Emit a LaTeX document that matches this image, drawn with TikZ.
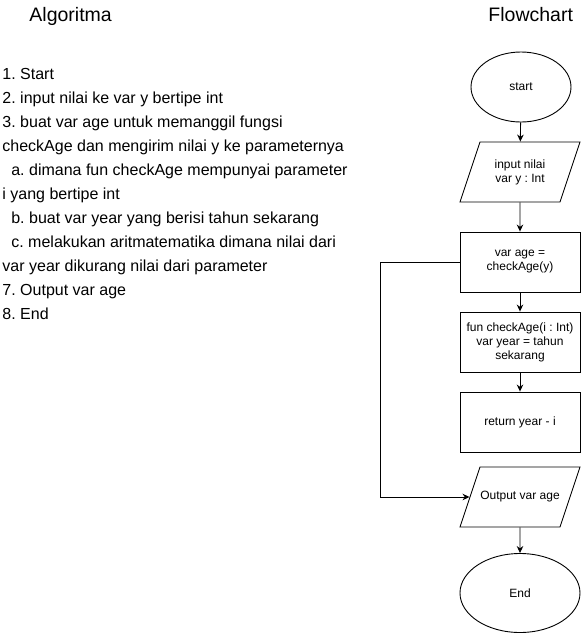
\documentclass[tikz,border=0pt]{standalone}
\usepackage{fontspec}
\setmainfont{Liberation Sans}
\frenchspacing
\usetikzlibrary{shapes,shapes.geometric,arrows.meta}
\newcommand{\iotext}[1]{\parbox[c][60pt][c]{80pt}{\centering #1}}

\begin{document}
\begin{tikzpicture}[x=1pt,y=-1pt,line width=0.9pt,
  ttl/.style={anchor=base west,inner sep=0pt,font=\fontsize{19.5}{23}\selectfont},
  txt/.style={anchor=base west,inner sep=0pt,font=\fontsize{16}{19}\selectfont},
  term/.style={draw,ellipse,inner sep=0pt,align=center,font=\fontsize{12}{14}\selectfont},
  io/.style={draw,trapezium,trapezium left angle=71.57,trapezium right angle=108.43,
    inner sep=0pt,font=\fontsize{12}{14}\selectfont},
  proc/.style={draw,rectangle,minimum width=120pt,minimum height=60pt,inner sep=0pt,
    align=center,font=\fontsize{12}{14}\selectfont},
  arr/.style={-{Stealth[length=7pt,width=6.5pt]}}]
\useasboundingbox (0,0) rectangle (581,633);
% algoritma
\draw(29,21) node[ttl] (algo) {Algoritma};
\draw(2,79) node[txt] (s1) {1. Start};
\draw(2,103) node[txt] (s2) {2. input nilai ke var y bertipe int};
\draw(2,127) node[txt] (s3) {3. buat var age untuk memanggil fungsi};
\draw(2,151) node[txt] (s3b) {checkAge dan mengirim nilai y ke parameternya};
\draw(2,175) node[txt] (sa) {\hspace*{8.9pt}a. dimana fun checkAge mempunyai parameter};
\draw(2,199) node[txt] (sa2) {i yang bertipe int};
\draw(2,223) node[txt] (sb) {\hspace*{8.9pt}b. buat var year yang berisi tahun sekarang};
\draw(2,247) node[txt] (sc) {\hspace*{8.9pt}c. melakukan aritmatematika dimana nilai dari};
\draw(2,271) node[txt] (sc2) {var year dikurang nilai dari parameter};
\draw(2,295) node[txt] (s7) {7. Output var age};
\draw(2,319) node[txt] (s8) {8. End};
% flowchart
\draw(488,21) node[ttl] (flow) {Flowchart};
\draw(521,87) node[term,minimum width=100pt,minimum height=70pt] (start) {start};
\draw(520,172) node[io] (input) {\iotext{input nilai\\var y : Int}};
\draw(520,262) node[proc] (age) {var age =\\checkAge(y)};
\draw(520,342) node[proc] (fun) {fun checkAge(i : Int)\\var year = tahun\\sekarang};
\draw(520,422) node[proc] (ret) {return year - i};
\draw(520,497) node[io] (output) {\iotext{Output var age}};
\draw(520,593) node[term,minimum width=120pt,minimum height=79pt] (end) {End};
\draw[arr] (start) -- (input);
\draw[arr] (input) -- (age);
\draw[arr] (age) -- (fun);
\draw[arr] (fun) -- (ret);
\draw[arr] (age.west) -- ++(-79,0) |- (output.west);
\draw[arr] (output) -- (end);
\end{tikzpicture}
\end{document}
